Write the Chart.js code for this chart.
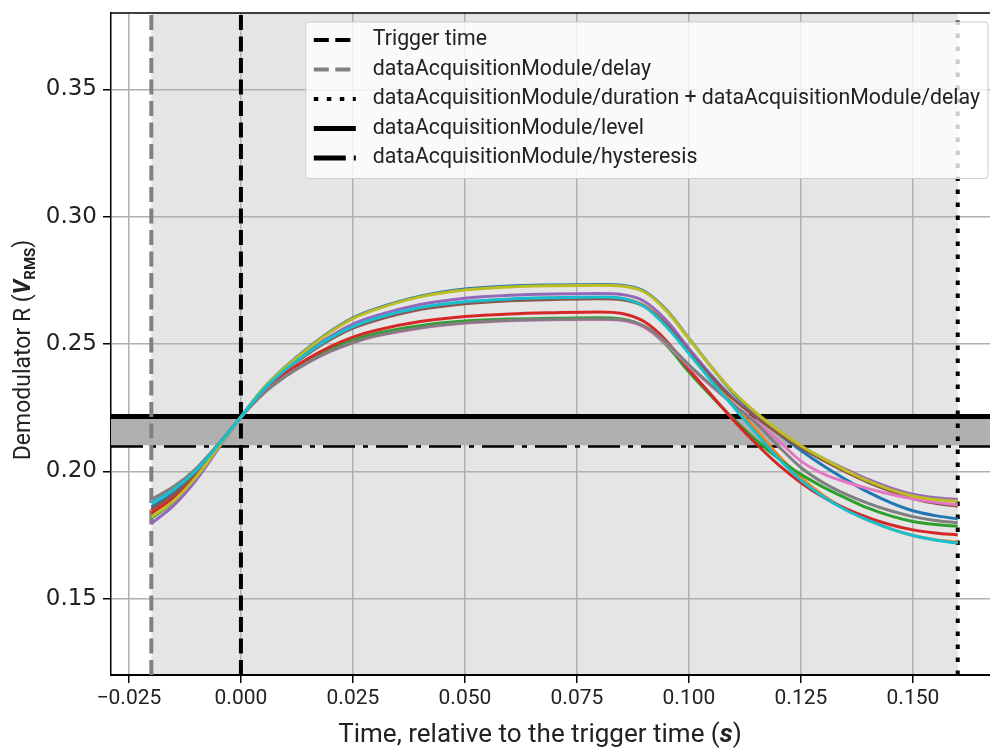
<!DOCTYPE html>
<html>
<head>
<meta charset="utf-8">
<script src="https://cdn.jsdelivr.net/npm/chart.js@4.4.0/dist/chart.umd.min.js"></script>
<style>
  html, body { margin: 0; padding: 0; background: #fff; }
  #wrap { width: 990px; height: 749px; }
</style>
</head>
<body>
<div id="wrap"><canvas id="chart" width="990" height="749"></canvas></div>
<script>
// time axis of every captured burst, seconds relative to the trigger
const times = [
  -0.020, -0.015, -0.010, -0.005, 0.000, 0.005, 0.010, 0.015, 0.020, 0.025, 0.030,
  0.040, 0.050, 0.060, 0.070, 0.080,
  0.085, 0.090, 0.095, 0.100, 0.105, 0.110, 0.115, 0.120, 0.125, 0.130, 0.135, 0.140, 0.145, 0.150, 0.155, 0.160,
];

// demodulator R of each captured burst (V_RMS)
const burst1 = [0.1860, 0.1915, 0.1995, 0.2100, 0.2213, 0.2325, 0.2412, 0.2485, 0.2550, 0.2603, 0.2638,
  0.2688, 0.2716, 0.2728, 0.2732, 0.2734,
  0.2731, 0.2708, 0.2633, 0.2522, 0.2410, 0.2305, 0.2222, 0.2148, 0.2082, 0.2022, 0.1968, 0.1918, 0.1877, 0.1845, 0.1826, 0.1813];
const burst2 = [0.1840, 0.1903, 0.1990, 0.2100, 0.2213, 0.2320, 0.2400, 0.2466, 0.2523, 0.2567, 0.2598,
  0.2641, 0.2664, 0.2676, 0.2681, 0.2683,
  0.2679, 0.2652, 0.2578, 0.2472, 0.2365, 0.2262, 0.2162, 0.2062, 0.1975, 0.1905, 0.1850, 0.1808, 0.1774, 0.1748, 0.1731, 0.1721];
const burst3 = [0.1815, 0.1882, 0.1977, 0.2095, 0.2213, 0.2310, 0.2380, 0.2436, 0.2481, 0.2515, 0.2540,
  0.2572, 0.2590, 0.2598, 0.2601, 0.2603,
  0.2598, 0.2568, 0.2495, 0.2390, 0.2295, 0.2205, 0.2122, 0.2050, 0.1988, 0.1938, 0.1895, 0.1855, 0.1825, 0.1803, 0.1791, 0.1784];
const burst4 = [0.1835, 0.1898, 0.1987, 0.2100, 0.2213, 0.2312, 0.2385, 0.2443, 0.2490, 0.2527, 0.2553,
  0.2588, 0.2608, 0.2618, 0.2623, 0.2626,
  0.2620, 0.2588, 0.2512, 0.2400, 0.2300, 0.2200, 0.2108, 0.2025, 0.1955, 0.1898, 0.1853, 0.1818, 0.1790, 0.1770, 0.1758, 0.1750];
const burst5 = [0.1795, 0.1866, 0.1966, 0.2090, 0.2213, 0.2320, 0.2402, 0.2470, 0.2530, 0.2578, 0.2610,
  0.2655, 0.2680, 0.2691, 0.2696, 0.2698,
  0.2694, 0.2668, 0.2592, 0.2483, 0.2378, 0.2285, 0.2215, 0.2150, 0.2098, 0.2050, 0.2008, 0.1968, 0.1935, 0.1910, 0.1896, 0.1889];
const burst6 = [0.1850, 0.1908, 0.1990, 0.2098, 0.2213, 0.2318, 0.2398, 0.2462, 0.2518, 0.2562, 0.2592,
  0.2635, 0.2658, 0.2670, 0.2675, 0.2678,
  0.2674, 0.2648, 0.2575, 0.2470, 0.2370, 0.2282, 0.2212, 0.2148, 0.2093, 0.2043, 0.1998, 0.1957, 0.1922, 0.1893, 0.1874, 0.1863];
const burst7 = [0.1880, 0.1934, 0.2007, 0.2106, 0.2213, 0.2305, 0.2374, 0.2428, 0.2471, 0.2505, 0.2530,
  0.2562, 0.2581, 0.2591, 0.2595, 0.2596,
  0.2592, 0.2566, 0.2500, 0.2412, 0.2335, 0.2262, 0.2195, 0.2120, 0.2040, 0.1990, 0.1958, 0.1932, 0.1910, 0.1892, 0.1878, 0.1869];
const burst8 = [0.1890, 0.1940, 0.2011, 0.2108, 0.2213, 0.2305, 0.2373, 0.2428, 0.2472, 0.2506, 0.2532,
  0.2564, 0.2583, 0.2593, 0.2597, 0.2598,
  0.2595, 0.2570, 0.2505, 0.2418, 0.2338, 0.2262, 0.2188, 0.2098, 0.2015, 0.1955, 0.1910, 0.1874, 0.1845, 0.1822, 0.1807, 0.1798];
const burst9 = [0.1820, 0.1884, 0.1977, 0.2095, 0.2213, 0.2325, 0.2410, 0.2482, 0.2547, 0.2600, 0.2635,
  0.2685, 0.2712, 0.2724, 0.2729, 0.2731,
  0.2728, 0.2705, 0.2630, 0.2520, 0.2410, 0.2310, 0.2230, 0.2160, 0.2100, 0.2050, 0.2004, 0.1962, 0.1928, 0.1903, 0.1889, 0.1882];
const burst10 = [0.1875, 0.1928, 0.2003, 0.2104, 0.2213, 0.2320, 0.2400, 0.2466, 0.2524, 0.2568, 0.2600,
  0.2643, 0.2666, 0.2677, 0.2682, 0.2685,
  0.2680, 0.2648, 0.2568, 0.2463, 0.2355, 0.2252, 0.2150, 0.2050, 0.1965, 0.1900, 0.1848, 0.1808, 0.1774, 0.1748, 0.1730, 0.1718];

const bursts = [burst1, burst2, burst3, burst4, burst5, burst6, burst7, burst8, burst9, burst10];
const burstColors = ['#1f77b4', '#ff7f0e', '#2ca02c', '#d62728', '#9467bd',
  '#8c564b', '#e377c2', '#7f7f7f', '#bcbd22', '#17becf'];

// module settings shown as markers
const triggerTime = 0.0;
const delayTime = -0.02;
const windowEnd = 0.16; // duration + delay
const triggerLevel = 0.2215;
const hysteresisLevel = 0.2102;

const xTicks = [-0.025, 0.0, 0.025, 0.05, 0.075, 0.1, 0.125, 0.15];
const yTicks = [0.15, 0.20, 0.25, 0.30, 0.35];
const xMin = -0.029;
const xMax = 0.1672;
const yMin = 0.12;
const yMax = 0.38;

const FONT = 'Roboto, "Noto Sans", sans-serif';
const TICK_FONT = '"DejaVu Sans", sans-serif';

function vline(label, x, color, dash, width) {
  return {
    label,
    legendLabel: label,
    data: [{ x, y: yMin }, { x, y: yMax }],
    borderColor: color,
    borderWidth: width,
    borderDash: dash,
    pointRadius: 0,
    fill: false,
    order: 20,
  };
}

const datasets = bursts.map((run, k) => ({
  label: `burst ${k + 1}`,
  data: times.map((t, i) => ({ x: t, y: run[i] })),
  borderColor: burstColors[k],
  borderWidth: 3,
  pointRadius: 0,
  cubicInterpolationMode: 'monotone',
  fill: false,
  order: bursts.length - k,
}));

datasets.push(
  vline('Trigger time', triggerTime, '#000', [15, 6.5], 4),
  vline('dataAcquisitionModule/delay', delayTime, '#808080', [15, 6.5], 4),
  vline('dataAcquisitionModule/duration + dataAcquisitionModule/delay', windowEnd, '#000', [4.5, 8.5], 4),
  {
    label: 'dataAcquisitionModule/level',
    legendLabel: 'dataAcquisitionModule/level',
    data: [{ x: xMin, y: triggerLevel }, { x: xMax, y: triggerLevel }],
    borderColor: '#000',
    borderWidth: 5,
    borderDash: [],
    pointRadius: 0,
    fill: '+1',
    backgroundColor: '#b0b0b0',
    order: 30,
  },
  {
    label: 'dataAcquisitionModule/hysteresis',
    legendLabel: 'dataAcquisitionModule/hysteresis',
    data: [{ x: xMin, y: hysteresisLevel }, { x: xMax, y: hysteresisLevel }],
    borderColor: '#000',
    borderWidth: 5,
    borderDash: [32, 8, 5, 8],
    pointRadius: 0,
    fill: false,
    order: 30,
  },
);

// light grey band for the acquisition window, under the grid
const windowShade = {
  id: 'windowShade',
  beforeDraw(chart) {
    const { ctx, chartArea, scales } = chart;
    const x0 = scales.x.getPixelForValue(delayTime);
    const x1 = scales.x.getPixelForValue(windowEnd);
    ctx.save();
    ctx.fillStyle = '#e5e5e5';
    ctx.fillRect(x0, chartArea.top, x1 - x0, chartArea.bottom - chartArea.top);
    ctx.restore();
  },
};

// boxed legend for the marker lines, top right of the plot
const markerLegend = {
  id: 'markerLegend',
  afterDatasetsDraw(chart) {
    const { ctx, chartArea } = chart;
    const items = chart.data.datasets.filter((d) => d.legendLabel);
    ctx.save();
    ctx.font = `21.3px ${FONT}`;
    const textW = Math.max(...items.map((d) => ctx.measureText(d.legendLabel).width));
    const rowH = 29.5;
    const w = 67 + textW + 8;
    const h = items.length * rowH + 9;
    const right = chartArea.right - 2;
    const left = right - w;
    const top = chartArea.top + 9;

    ctx.beginPath();
    ctx.roundRect(left, top, w, h, 3);
    ctx.fillStyle = 'rgba(255,255,255,0.8)';
    ctx.fill();
    ctx.strokeStyle = '#cccccc';
    ctx.lineWidth = 1;
    ctx.stroke();

    items.forEach((d, i) => {
      const y = top + 18 + i * rowH;
      ctx.beginPath();
      ctx.setLineDash(d.borderDash || []);
      ctx.lineDashOffset = 0;
      ctx.strokeStyle = d.borderColor;
      ctx.lineWidth = d.borderWidth;
      ctx.moveTo(left + 8, y);
      ctx.lineTo(left + 50, y);
      ctx.stroke();
      ctx.setLineDash([]);
      ctx.fillStyle = '#222';
      ctx.textBaseline = 'middle';
      ctx.textAlign = 'left';
      ctx.fillText(d.legendLabel, left + 67, y);
    });
    ctx.restore();
  },
};

// top spine and the two axis titles (mixed roman / bold italic text)
function drawRuns(ctx, runs, x, y, align) {
  let total = 0;
  runs.forEach((r) => { ctx.font = r.font; total += ctx.measureText(r.text).width; });
  let cx = align === 'center' ? x - total / 2 : x;
  runs.forEach((r) => {
    ctx.font = r.font;
    ctx.fillText(r.text, cx, y + (r.dy || 0));
    cx += ctx.measureText(r.text).width;
  });
}

const axisDecor = {
  id: 'axisDecor',
  afterDraw(chart) {
    const { ctx, chartArea } = chart;
    ctx.save();
    ctx.strokeStyle = '#000';
    ctx.lineWidth = 1.5;
    ctx.beginPath();
    ctx.moveTo(chartArea.left, chartArea.top);
    ctx.lineTo(chartArea.right, chartArea.top);
    ctx.stroke();

    ctx.fillStyle = '#222';
    ctx.textBaseline = 'alphabetic';
    ctx.textAlign = 'left';
    const xReg = `26px ${FONT}`;
    drawRuns(ctx, [
      { text: 'Time, relative to the trigger time (', font: xReg },
      { text: 's', font: `italic bold 26px ${FONT}` },
      { text: ')', font: xReg },
    ], 540, 742, 'center');

    const yReg = `23px ${FONT}`;
    ctx.translate(30, 350);
    ctx.rotate(-Math.PI / 2);
    drawRuns(ctx, [
      { text: 'Demodulator R (', font: yReg },
      { text: 'V', font: `italic bold 23px ${FONT}` },
      { text: 'RMS', font: `bold 15px ${FONT}`, dy: 5 },
      { text: ')', font: yReg },
    ], 0, 0, 'center');
    ctx.restore();
  },
};

new Chart(document.getElementById('chart'), {
  type: 'line',
  data: { datasets },
  options: {
    responsive: false,
    animation: false,
    events: [],
    layout: { padding: { left: 0, right: 0, top: 13, bottom: 0 } },
    plugins: {
      legend: { display: false },
      tooltip: { enabled: false },
    },
    scales: {
      x: {
        type: 'linear',
        min: xMin,
        max: xMax,
        afterBuildTicks: (scale) => { scale.ticks = xTicks.map((value) => ({ value })); },
        afterFit: (scale) => { scale.height = 74; },
        grid: { color: '#b0b0b0', lineWidth: 1.5, tickColor: '#000', tickLength: 8, tickWidth: 1.5 },
        border: { color: '#000', width: 2 },
        ticks: {
          color: '#222',
          font: { family: FONT, size: 21 },
          padding: 3,
          maxRotation: 0,
          callback: (v) => (v < 0 ? '\u2212' + Math.abs(v).toFixed(3) : v.toFixed(3)),
        },
      },
      y: {
        type: 'linear',
        min: yMin,
        max: yMax,
        afterBuildTicks: (scale) => { scale.ticks = yTicks.map((value) => ({ value })); },
        afterFit: (scale) => {
          scale.width = 111;
          scale.paddingTop = 0;
          scale.paddingBottom = 0;
        },
        grid: { color: '#b0b0b0', lineWidth: 1.5, tickColor: '#000', tickLength: 8, tickWidth: 1.5 },
        border: { color: '#000', width: 1.5 },
        ticks: {
          color: '#222',
          font: { family: TICK_FONT, size: 23 },
          padding: 6,
          callback: (v) => v.toFixed(2),
        },
      },
    },
  },
  plugins: [windowShade, markerLegend, axisDecor],
});
</script>
</body>
</html>
